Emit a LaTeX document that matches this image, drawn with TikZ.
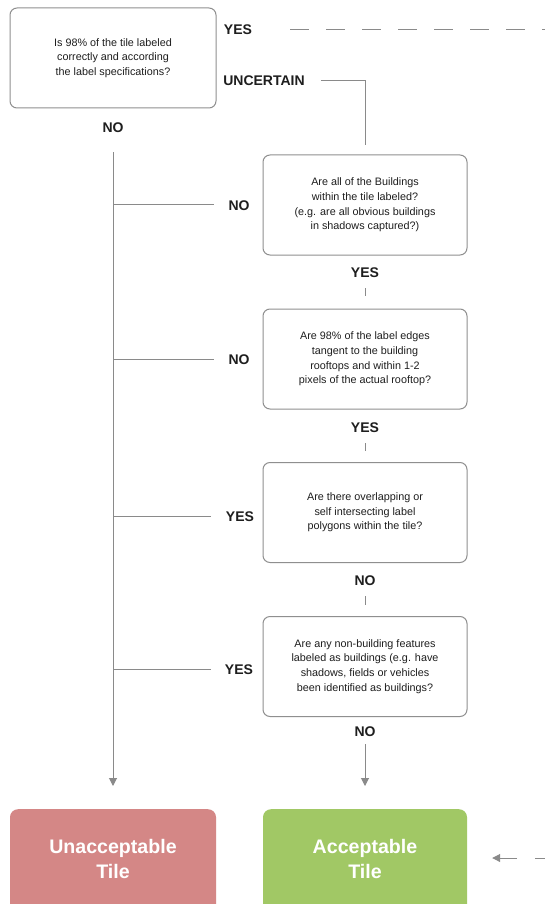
\documentclass[tikz,border=0pt]{standalone}
\usepackage{fontspec}
\setmainfont{Liberation Sans}
\usetikzlibrary{arrows.meta}
\definecolor{boxgray}{HTML}{8F8F8F}
\definecolor{linegray}{HTML}{8A8A8A}
\definecolor{txt}{HTML}{1E1E1E}
\definecolor{badred}{HTML}{D48786}
\definecolor{goodgreen}{HTML}{A1C865}
\begin{document}
\begin{tikzpicture}[x=1pt,y=-1pt,
  qbox/.style={draw=boxgray, line width=1pt, rounded corners=7pt,
    minimum width=204pt, minimum height=100pt, inner sep=0pt,
    align=center, text=txt, font=\fontsize{10.8}{14.7}\selectfont},
  endbox/.style={rounded corners=8pt, minimum width=206pt, minimum height=112pt,
    inner sep=0pt},
  endtxt/.style={text=white, align=center, font=\fontsize{19.6}{25}\bfseries\selectfont},
  lbl/.style={text=txt, inner sep=1pt, font=\fontsize{14}{16}\bfseries\selectfont},
  conn/.style={draw=linegray, line width=1pt},
  arr/.style={conn, -{Triangle[length=8pt,width=8pt]}},
  dashline/.style={conn, dash pattern=on 18.5pt off 17.5pt}
]
\clip (0,0) rectangle (545,904);
\useasboundingbox (0,0) rectangle (545,904);
\fill[white] (0,0) rectangle (545,904);

% question boxes
\node[qbox, minimum width=206pt] (q0) at (113,58) {Is 98\% of the tile labeled\\correctly and according\\the label specifications?};
\node[qbox] (q1) at (365,205) {Are all of the Buildings\\within the tile labeled?\\(e.g. are all obvious buildings\\in shadows captured?)};
\node[qbox] (q2) at (365,359) {Are 98\% of the label edges\\tangent to the building\\rooftops and within 1-2\\pixels of the actual rooftop?};
\node[qbox] (q3) at (365,512.5) {Are there overlapping or\\self intersecting label\\polygons within the tile?};
\node[qbox] (q4) at (365,666.5) {Are any non-building features\\labeled as buildings (e.g. have\\shadows, fields or vehicles\\been identified as buildings?};

% end boxes
\node[endbox, fill=badred, anchor=north] (bad) at (113,809) {};
\node[endbox, fill=goodgreen, anchor=north, minimum width=204pt] (good) at (365,809) {};
\node[endtxt] (badt) at (113,859) {Unacceptable\\Tile};
\node[endtxt] (goodt) at (365,859) {Acceptable\\Tile};

% labels
\node[lbl] (yes0) at (238,30) {YES};
\node[lbl] (unc) at (264,81) {UNCERTAIN};
\node[lbl] (no0) at (113,128) {NO};
\node[lbl] (no1) at (239,206) {NO};
\node[lbl] (no2) at (239,360) {NO};
\node[lbl] (yes3) at (240,517) {YES};
\node[lbl] (yes4) at (239,670) {YES};
\node[lbl] (yes1) at (365,273) {YES};
\node[lbl] (yes2) at (365,428) {YES};
\node[lbl] (no3) at (365,581) {NO};
\node[lbl] (no4) at (365,732) {NO};

\coordinate (edgeT) at (545,30);
\coordinate (edgeB) at (545,858);
\coordinate (t1) at (113,204);
\coordinate (t2) at (113,359);
\coordinate (t3) at (113,516);
\coordinate (t4) at (113,669);

% connectors
\draw[dashline] (290,30) -- (edgeT);
\draw[conn, shorten >=9pt] (unc.east) ++(15,0) -| (q1.north);
\draw[arr, shorten <=18pt, shorten >=23pt] (no0.south) -- (bad.north);
\draw[conn, shorten >=13pt] (t1) -- (t1 -| no1.west);
\draw[conn, shorten >=13pt] (t2) -- (t2 -| no2.west);
\draw[conn, shorten >=14pt] (t3) -- (t3 -| yes3.west);
\draw[conn, shorten >=13pt] (t4) -- (t4 -| yes4.west);
\draw[conn, shorten <=9pt, shorten >=13pt] (yes1.south) -- (q2.north);
\draw[conn, shorten <=9pt, shorten >=11pt] (yes2.south) -- (q3.north);
\draw[conn, shorten <=9pt, shorten >=11pt] (no3.south) -- (q4.north);
\draw[arr, shorten <=6pt, shorten >=23pt] (no4.south) -- (good.north);
\draw[conn, -{Triangle[length=8pt,width=8pt]}, dash pattern=on 10pt off 18pt on 40pt off 100pt, shorten >=25pt] (edgeB) -- (good.east |- edgeB);
\end{tikzpicture}
\end{document}
